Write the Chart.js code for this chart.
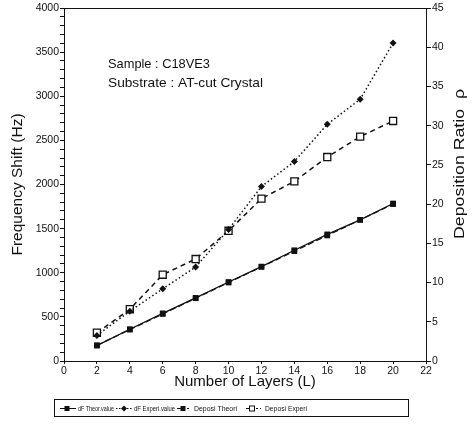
<!DOCTYPE html>
<html><head><meta charset="utf-8">
<script src="https://cdn.jsdelivr.net/npm/chart.js@4.4.0/dist/chart.umd.min.js"></script>
<style>html,body{margin:0;padding:0;background:#fff;}#wrap{width:476px;height:425px;}</style>
</head><body><div id="wrap"><canvas id="c" width="476" height="425"></canvas></div>
<script>
const layers = [2, 4, 6, 8, 10, 12, 14, 16, 18, 20];
const dfTheor = [175, 360, 540, 715, 895, 1070, 1255, 1435, 1600, 1785];
const dfExperi = [290, 565, 818, 1065, 1490, 1977, 2261, 2682, 2966, 3602];
const depTheor = [2, 4, 6, 8, 10, 12, 14, 16, 18, 20];
const depExperi = [3.6, 6.6, 11.0, 13.0, 16.6, 20.7, 22.9, 26.0, 28.6, 30.6];
const xTicks = [0, 2, 4, 6, 8, 10, 12, 14, 16, 18, 20, 22];
const leftTicks = [0, 500, 1000, 1500, 2000, 2500, 3000, 3500, 4000];
const rightTicks = [0, 5, 10, 15, 20, 25, 30, 35, 40, 45];
const seriesNames = ["dF Theor.value", "dF Experi.value", "Deposi Theori", "Deposi Experi"];
const notes = ["Sample : C18VE3", "Substrate : AT-cut Crystal"];
const xTitle = "Number of Layers (L)";
const yTitle = "Frequency Shift (Hz)";
const y2Title = "Deposition Ratio  \u03c1";

const pts = (ys) => layers.map((x, i) => ({x: x, y: ys[i]}));
const FONT = "'Liberation Sans', Arial, sans-serif";
const INK = '#111';

function fitText(ctx, text, x, y, w) {
  const m = ctx.measureText(text).width;
  ctx.save();
  ctx.translate(x, y);
  ctx.scale(w / m, 1);
  ctx.fillText(text, 0, 0);
  ctx.restore();
}

const extras = {
  id: 'extras',
  afterDraw(chart) {
    const ctx = chart.ctx;
    const ca = chart.chartArea;
    ctx.save();
    ctx.strokeStyle = INK; ctx.lineWidth = 1;
    ctx.beginPath(); ctx.moveTo(ca.left, ca.top + 0.5); ctx.lineTo(ca.right, ca.top + 0.5); ctx.stroke();
    ctx.fillStyle = INK;
    ctx.font = "13px " + FONT;
    ctx.textBaseline = 'middle'; ctx.textAlign = 'left';
    fitText(ctx, notes[0], 108, 64, 102);
    fitText(ctx, notes[1], 108, 83, 155);
    // right title
    ctx.save();
    ctx.translate(460, 164);
    ctx.rotate(-Math.PI / 2);
    ctx.font = "15px " + FONT;
    ctx.textAlign = 'left';
    fitText(ctx, y2Title, -75, 0, 150);
    ctx.restore();
    // legend
    ctx.lineWidth = 1;
    ctx.strokeRect(54.5, 399.5, 354, 17);
    ctx.font = "7px " + FONT;
    const ly = 408.5;
    const items = [
      {x0: 60, x1: 76, mx: 67, tx: 78, tw: 36, m: 'sq', d0: [], d1: []},
      {x0: 116, x1: 132, mx: 124, tx: 134, tw: 41, m: 'dia', d0: [1.5, 1.5], d1: [1.5, 1.5]},
      {x0: 177, x1: 191, mx: 183, tx: 194, tw: 43, m: 'sq', d0: [], d1: [2, 2]},
      {x0: 246, x1: 261, mx: 252, tx: 265, tw: 42, m: 'open', d0: [], d1: [2, 2]}
    ];
    items.forEach((it, i) => {
      ctx.setLineDash(it.d0);
      ctx.beginPath(); ctx.moveTo(it.x0, ly); ctx.lineTo(it.mx, ly); ctx.stroke();
      ctx.setLineDash(it.d1);
      ctx.beginPath(); ctx.moveTo(it.mx, ly); ctx.lineTo(it.x1, ly); ctx.stroke();
      ctx.setLineDash([]);
      if (it.m === 'sq') { ctx.fillRect(it.mx - 2.5, ly - 2.5, 5, 5); }
      else if (it.m === 'dia') {
        ctx.beginPath(); ctx.moveTo(it.mx, ly - 3); ctx.lineTo(it.mx + 3, ly); ctx.lineTo(it.mx, ly + 3); ctx.lineTo(it.mx - 3, ly); ctx.closePath(); ctx.fill();
      } else {
        ctx.fillStyle = '#fff'; ctx.fillRect(it.mx - 3, ly - 3, 6, 6);
        ctx.fillStyle = INK; ctx.strokeRect(it.mx - 2.5, ly - 2.5, 5, 5);
      }
      fitText(ctx, seriesNames[i], it.tx, ly + 0.5, it.tw);
    });
    ctx.restore();
  }
};

new Chart(document.getElementById('c'), {
  type: 'line',
  data: {
    datasets: [
      {label: seriesNames[0], data: pts(dfTheor), yAxisID: 'y', borderColor: INK, backgroundColor: INK,
       borderWidth: 1.3, pointStyle: 'rect', pointRadius: 4, pointBorderWidth: 0, tension: 0},
      {label: seriesNames[1], data: pts(dfExperi), yAxisID: 'y', borderColor: INK, backgroundColor: INK,
       borderWidth: 1.5, borderDash: [1.5, 2.5], pointStyle: 'rectRot', pointRadius: 3.5, pointBorderWidth: 0, tension: 0},
      {label: seriesNames[2], data: pts(depTheor), yAxisID: 'y2', borderColor: INK, backgroundColor: INK,
       borderWidth: 1.3, borderDash: [6, 3], pointStyle: 'rect', pointRadius: 4, pointBorderWidth: 0, tension: 0},
      {label: seriesNames[3], data: pts(depExperi), yAxisID: 'y2', borderColor: INK, backgroundColor: '#fff',
       borderWidth: 1.5, borderDash: [5, 4], pointStyle: 'rect', pointRadius: 5, pointBorderWidth: 1.3, tension: 0}
    ]
  },
  options: {
    responsive: false,
    animation: false,
    events: [],
    layout: {padding: {top: 8, left: 0, right: 0, bottom: 0}},
    plugins: {legend: {display: false}, tooltip: {enabled: false}},
    scales: {
      x: {
        type: 'linear', min: 0, max: 22,
        afterBuildTicks: (s) => { s.ticks = xTicks.map(v => ({value: v})); },
        afterFit: (s) => { s.height = 64; },
        grid: {display: true, drawOnChartArea: false, drawTicks: true, tickLength: 3, color: INK},
        border: {display: true, color: INK, width: 1},
        ticks: {color: INK, font: {family: FONT, size: 10.5}, padding: 1, maxRotation: 0},
        title: {display: true, text: xTitle, color: INK, font: {family: FONT, size: 15}, padding: {top: 0, bottom: 34}}
      },
      y: {
        type: 'linear', position: 'left', min: 0, max: 4000,
        afterBuildTicks: (s) => { const t = []; for (let v = 0; v <= 4000; v += 100) t.push({value: v}); s.ticks = t; },
        afterFit: (s) => { s.width = 64; },
        grid: {display: true, drawOnChartArea: false, drawTicks: true, tickLength: 4, color: INK},
        border: {display: true, color: INK, width: 1},
        ticks: {color: INK, font: {family: FONT, size: 10.5}, padding: 1, autoSkip: false,
          callback: (v) => leftTicks.includes(v) ? String(v) : ''},
        title: {display: true, text: yTitle, color: INK, font: {family: FONT, size: 15.5}, padding: {top: 8, bottom: 0}}
      },
      y2: {
        type: 'linear', position: 'right', min: 0, max: 45,
        afterBuildTicks: (s) => { s.ticks = rightTicks.map(v => ({value: v})); },
        afterFit: (s) => { s.width = 50; },
        grid: {display: true, drawOnChartArea: false, drawTicks: true, tickLength: 5, color: INK},
        border: {display: true, color: INK, width: 1},
        ticks: {color: INK, font: {family: FONT, size: 10.5}, padding: 1}
      }
    }
  },
  plugins: [extras]
});
</script>
</body></html>
